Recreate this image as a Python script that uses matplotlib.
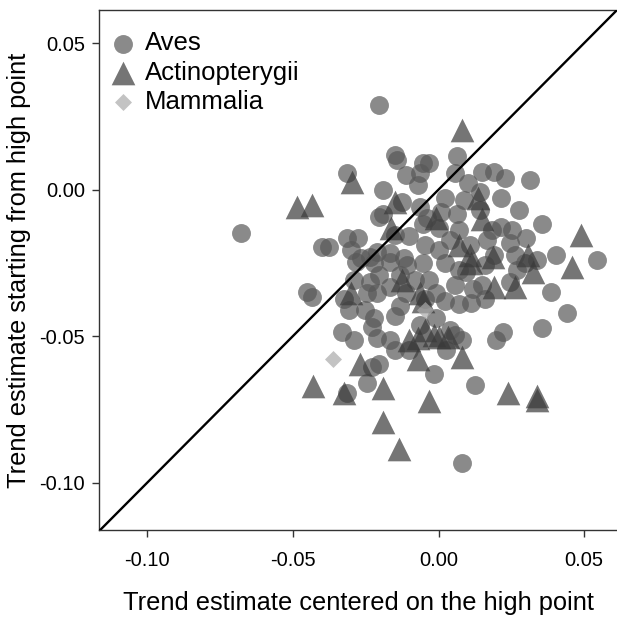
import matplotlib
matplotlib.use("Agg")
import matplotlib.pyplot as plt
import numpy as np

plt.rcParams['font.family'] = ['Liberation Sans', 'DejaVu Sans']

# Aves (circles): trend centered on high point (x), trend starting from high point (y)
aves_x = [-0.0677, -0.0203, -0.0151, -0.0144, -0.0055, -0.0031, 0.0065, -0.0110, -0.0065, -0.0072,
          -0.0192, 0.0021, 0.0055, -0.0192, -0.0124, -0.0065, -0.0055, -0.0038, 0.0010, 0.0062,
          -0.0100, -0.0213, -0.0168, -0.0117, 0.0151, 0.0192, 0.0227, 0.0313, 0.0216, 0.0100,
          0.0141, 0.0354, 0.0216, 0.0251, 0.0302, 0.0244, 0.0072, 0.0405, 0.0337, 0.0546,
          0.0388, 0.0440, 0.0357, 0.0220, 0.0199, 0.0124, 0.0082, 0.0096, 0.0117, 0.0148,
          0.0113, 0.0268, 0.0296, 0.0244, -0.0220, -0.0168, -0.0107, -0.0055, 0.0021, 0.0072,
          -0.0213, -0.0168, -0.0110, -0.0007, 0.0021, -0.0220, -0.0151, -0.0213, -0.0168, -0.0065,
          -0.0007, 0.0055, -0.0203, -0.0014, -0.0450, -0.0436, -0.0333, -0.0237, -0.0247, -0.0254,
          -0.0227, -0.0247, -0.0227, -0.0313, -0.0399, -0.0375, -0.0313, -0.0278, -0.0299, -0.0265,
          -0.0282, -0.0203, 0.0082, -0.0313, -0.0134, 0.0038, -0.0237, 0.0003, 0.0038, 0.0107,
          0.0168, 0.0182, 0.0003, -0.0048, -0.0151, -0.0203, -0.0289, -0.0323, -0.0306, -0.0134,
          -0.0082, -0.0031, 0.0055, 0.0158, 0.0192, 0.0141, 0.0089, 0.0278, 0.0261, -0.0151,
          -0.0289, -0.0100, 0.0027, 0.0158, 0.0072, -0.0048]
aves_y = [-0.0147, 0.0290, 0.0119, 0.0102, 0.0092, 0.0092, 0.0113, 0.0051, 0.0058, 0.0017,
          0.0000, -0.0027, 0.0058, -0.0085, -0.0041, -0.0058, -0.0119, -0.0096, -0.0075, -0.0085,
          -0.0160, -0.0212, -0.0215, -0.0232, 0.0061, 0.0061, 0.0041, 0.0034, -0.0027, 0.0024,
          -0.0007, -0.0119, -0.0126, -0.0137, -0.0164, -0.0181, -0.0137, -0.0222, -0.0239, -0.0239,
          -0.0348, -0.0420, -0.0471, -0.0485, -0.0512, -0.0666, -0.0512, -0.0283, -0.0341, -0.0324,
          -0.0386, -0.0273, -0.0249, -0.0314, -0.0249, -0.0246, -0.0256, -0.0249, -0.0249, -0.0273,
          -0.0352, -0.0331, -0.0352, -0.0352, -0.0382, -0.0437, -0.0433, -0.0505, -0.0512, -0.0461,
          -0.0437, -0.0495, -0.0597, -0.0631, -0.0348, -0.0365, -0.0485, -0.0317, -0.0352, -0.0410,
          -0.0468, -0.0659, -0.0604, 0.0058, -0.0195, -0.0195, -0.0164, -0.0164, -0.0205, -0.0232,
          -0.0246, -0.0092, -0.0932, -0.0696, -0.0399, -0.0478, -0.0229, -0.0130, -0.0171, -0.0188,
          -0.0171, -0.0137, -0.0205, -0.0188, -0.0154, -0.0290, -0.0307, -0.0375, -0.0410, -0.0290,
          -0.0307, -0.0307, -0.0324, -0.0256, -0.0222, -0.0068, -0.0034, -0.0068, -0.0222, -0.0546,
          -0.0512, -0.0546, -0.0546, -0.0375, -0.0392, -0.0375]

# Actinopterygii (triangles)
actino_x = [-0.0485, -0.0436, -0.0296, 0.0082, 0.0491, 0.0457, -0.0430, -0.0326, -0.0268, -0.0192,
            -0.0189, -0.0137, -0.0031, 0.0082, -0.0069, 0.0237, 0.0337, 0.0337, -0.0014, 0.0003,
            -0.0072, -0.0100, -0.0299, -0.0151, -0.0162, -0.0007, 0.0134, 0.0151, 0.0306, 0.0186,
            0.0192, 0.0261, 0.0113, 0.0323, -0.0124, -0.0065, -0.0055, -0.0048, 0.0031, 0.0072,
            0.0107]
actino_y = [-0.0058, -0.0051, 0.0027, 0.0205, -0.0154, -0.0263, -0.0672, -0.0696, -0.0597, -0.0676,
            -0.0795, -0.0884, -0.0720, -0.0573, -0.0580, -0.0693, -0.0703, -0.0717, -0.0495, -0.0502,
            -0.0505, -0.0512, -0.0352, -0.0041, -0.0130, -0.0096, -0.0027, -0.0102, -0.0222, -0.0229,
            -0.0331, -0.0334, -0.0249, -0.0280, -0.0307, -0.0352, -0.0382, -0.0478, -0.0502, -0.0188,
            -0.0222]

# Mammalia (diamonds)
mamm_x = [-0.0364, -0.0048]
mamm_y = [-0.0577, -0.0410]

fig = plt.figure(figsize=(6.17, 6.19), dpi=100)
ax = fig.add_axes([0.1605, 0.1438, 0.8395, 0.8400])

ax.scatter(aves_x, aves_y, s=185, marker='o', color='#585858', alpha=0.7,
           linewidths=0, label='Aves', zorder=2)
ax.scatter(actino_x, actino_y, s=290, marker='^', color='#3a3a3a', alpha=0.7,
           linewidths=0, label='Actinopterygii', zorder=3)
ax.scatter(mamm_x, mamm_y, s=75, marker='D', color='#aaaaaa', alpha=0.7,
           linewidths=0, label='Mammalia', zorder=4)

ax.axline((0, 0), slope=1, color='black', linewidth=1.7, zorder=5)

ax.set_xlim(-0.1166, 0.0613)
ax.set_ylim(-0.1162, 0.0613)
ticks = [-0.10, -0.05, 0.00, 0.05]
ax.set_xticks(ticks)
ax.set_yticks(ticks)
ax.set_xticklabels(['%.2f' % t for t in ticks])
ax.set_yticklabels(['%.2f' % t for t in ticks])
ax.tick_params(direction='out', length=5, width=1, labelsize=14.5, colors='#333333',
               labelcolor='black')
ax.tick_params(axis='x', pad=10)
ax.tick_params(axis='y', pad=5)

ax.spines['right'].set_visible(False)
for sp in ['left', 'bottom', 'top']:
    ax.spines[sp].set_color('#333333')
    ax.spines[sp].set_linewidth(1.0)

ax.set_xlabel('Trend estimate centered on the high point', fontsize=18.3, labelpad=15)
ax.set_ylabel('Trend estimate starting from high point', fontsize=18.3, labelpad=6)

ax.legend(loc='upper left', bbox_to_anchor=(0.0, 0.981), frameon=False, fontsize=18.5,
          handlelength=1.0, handletextpad=0.35, labelspacing=0.2, borderaxespad=0.0,
          borderpad=0.45, scatterpoints=1)

fig.savefig('out.png', dpi=100)
